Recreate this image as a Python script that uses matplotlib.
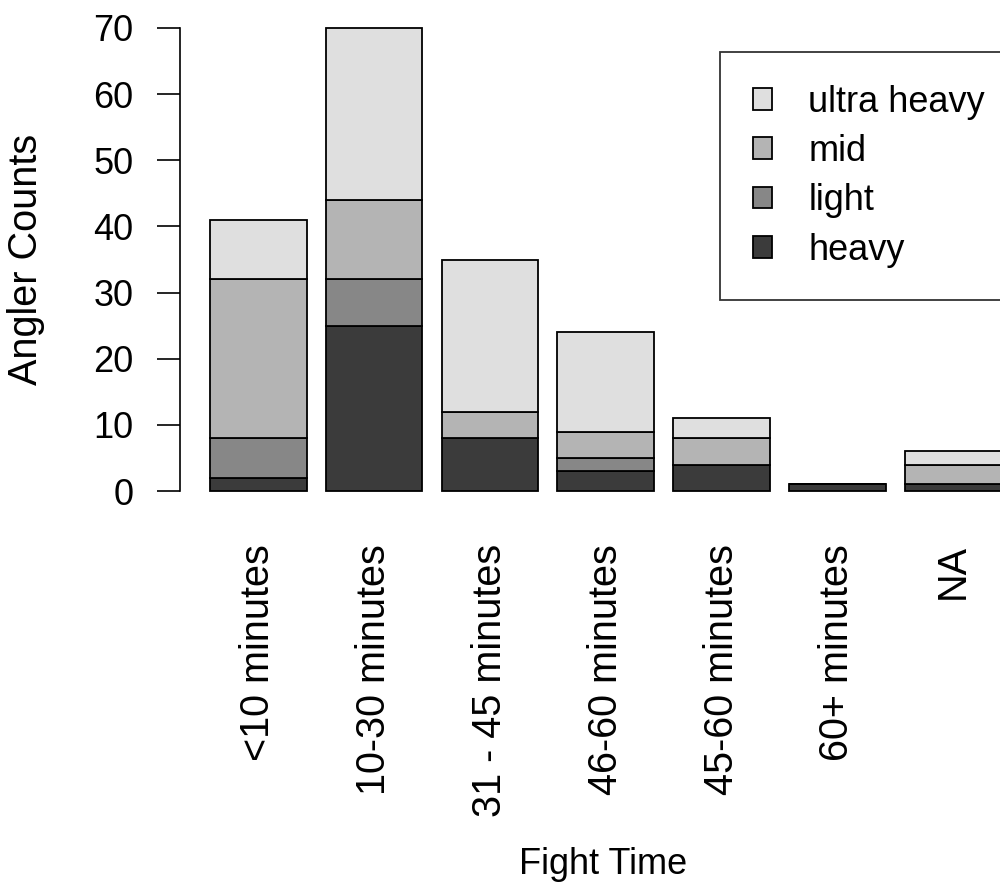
import numpy as np
import matplotlib
matplotlib.use('Agg')
import matplotlib.pyplot as plt
from matplotlib.patches import Patch

plt.rcParams['font.family'] = ['Liberation Sans', 'DejaVu Sans']

# fight time categories and counts per angler class (stacked bottom -> top)
categories = ['<10 minutes', '10-30 minutes', '31 - 45 minutes', '46-60 minutes',
              '45-60 minutes', '60+ minutes', 'NA']
heavy = [2, 25, 8, 3, 4, 1, 1]
light = [6, 7, 0, 2, 0, 0, 0]
mid = [24, 12, 4, 4, 4, 0, 3]
ultra_heavy = [9, 26, 23, 15, 3, 0, 2]

series = [('heavy', heavy, '#3b3b3b'),
          ('light', light, '#878787'),
          ('mid', mid, '#b4b4b4'),
          ('ultra heavy', ultra_heavy, '#dfdfdf')]

fig = plt.figure(figsize=(10, 8.88), dpi=100)
ax = fig.add_axes([0.1907, 0.447, 0.83, 0.5215])

x = 0.7 + 1.2 * np.arange(len(categories))
bottom = np.zeros(len(categories))
for name, vals, col in series:
    vals = np.array(vals, dtype=float)
    ax.bar(x, vals, width=1.0, bottom=bottom, color=col, edgecolor='black',
           linewidth=1.3, clip_on=False)
    bottom += vals

ax.set_xlim(0, 8.6)
ax.set_ylim(0, 70)

for s in ['top', 'right', 'bottom']:
    ax.spines[s].set_visible(False)
ax.spines['left'].set_position(('outward', 7.7))
ax.spines['left'].set_bounds(0, 70)
ax.spines['left'].set_linewidth(1.2)

ax.set_yticks(range(0, 71, 10))
ax.tick_params(axis='y', length=16.5, width=1.2, pad=17, labelsize=26)
ax.set_xticks(x)
ax.set_xticklabels(categories, rotation=90, fontsize=28.5)
ax.tick_params(axis='x', length=0, pad=38)

ax.set_ylabel('Angler Counts', fontsize=28.5)
ax.yaxis.set_label_coords(-0.1755, 0.5)
fig.text(0.603, 0.026, 'Fight Time', fontsize=26, ha='center', va='center')

handles = [Patch(facecolor=col, edgecolor='black', linewidth=1.3)
           for name, vals, col in series[::-1]]
labels = [name for name, vals, col in series[::-1]]
leg = fig.legend(handles, labels, loc='upper left',
                 bbox_to_anchor=(0.72, 1 - 52 / 888), borderaxespad=0,
                 fontsize=26, frameon=True, fancybox=False, borderpad=0.9,
                 handlelength=0.55, handleheight=0.55, handletextpad=1.0,
                 labelspacing=0.4)
leg.get_frame().set_edgecolor('black')
leg.get_frame().set_linewidth(1.3)

fig.savefig('out.png', dpi=100)
